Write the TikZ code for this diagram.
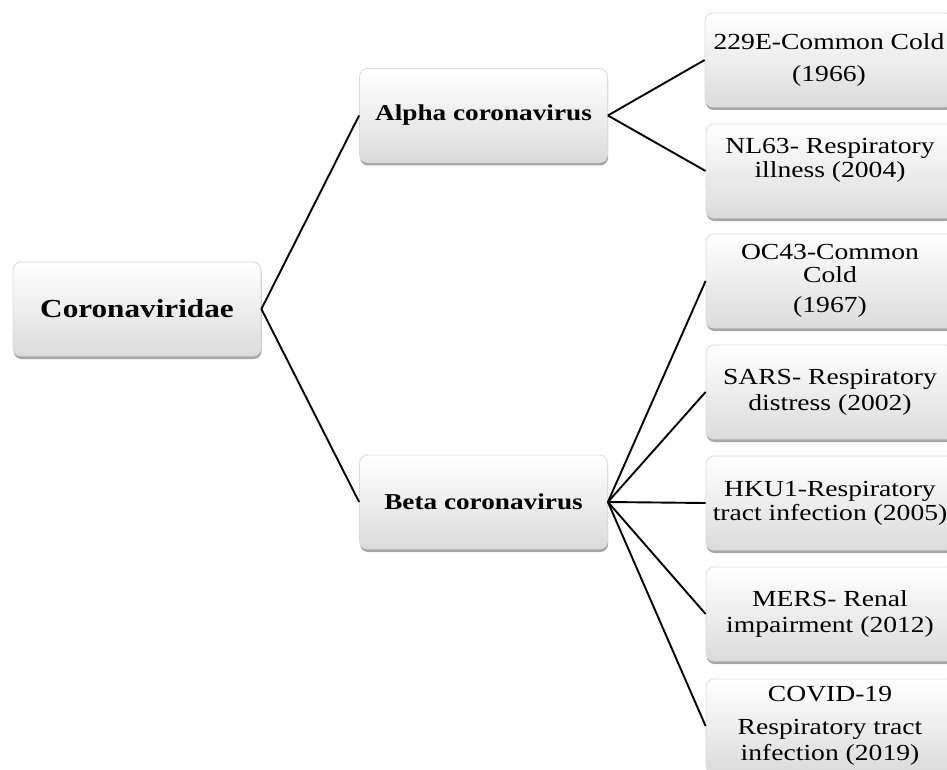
\documentclass[tikz,border=0pt]{standalone}
\usepackage{fontspec}
\setmainfont[FakeStretch=1.2]{Liberation Serif}
\usetikzlibrary{shadows}
\tikzset{
  boxbase/.style={rectangle, rounded corners=8pt, draw=black!14, line width=0.8pt,
    top color=white, bottom color=black!14,
    drop shadow={shadow xshift=0.6pt, shadow yshift=-3pt, opacity=0.35, fill=black},
    minimum width=248pt, minimum height=94pt, inner sep=0pt, align=center, text=black},
  rootbox/.style={boxbase, font=\fontsize{26}{28}\selectfont\bfseries},
  genbox/.style={boxbase, font=\fontsize{22.7}{25}\selectfont\bfseries},
  virbox/.style={boxbase, font=\fontsize{23}{24}\selectfont},
  link/.style={line width=1.9pt, draw=black}
}
\begin{document}
\begin{tikzpicture}[x=1pt,y=-1pt]
\useasboundingbox (0,0) rectangle (947,770);
\clip (0,0) rectangle (947,770);
% root and genera
\node[rootbox] (root)  at (137,309)   {Coronaviridae};
\node[genbox]  (alpha) at (483.5,115.5) {Alpha coronavirus};
\node[genbox]  (beta)  at (483.5,502) {Beta coronavirus};
% species
\node[virbox] (v229e) at (829,60)  {229E-Common Cold\\[8pt](1966)};
\node[virbox] (vnl63) at (830,171) {NL63- Respiratory\\illness (2004)\\[2pt]\mbox{}};
\node[virbox] (voc43) at (830,281) {OC43-Common\\[-1pt]Cold\\[6pt](1967)};
\node[virbox] (vsars) at (830,392) {SARS- Respiratory\\[2pt]distress (2002)};
\node[virbox] (vhku1) at (830,503) {HKU1-Respiratory\\tract infection (2005)};
\node[virbox] (vmers) at (830,614) {MERS- Renal\\[2pt]impairment (2012)};
\node[virbox] (vcovid) at (830,726) {COVID-19\\[9pt]Respiratory tract\\[2pt]infection (2019)};
% connectors
\draw[link] (root.east) -- (alpha.west);
\draw[link] (root.east) -- (beta.west);
\draw[link] (alpha.east) -- (v229e.west);
\draw[link] (alpha.east) -- (vnl63.west);
\draw[link] (beta.east) -- (voc43.west);
\draw[link] (beta.east) -- (vsars.west);
\draw[link] (beta.east) -- (vhku1.west);
\draw[link] (beta.east) -- (vmers.west);
\draw[link] (beta.east) -- (vcovid.west);
\end{tikzpicture}
\end{document}
